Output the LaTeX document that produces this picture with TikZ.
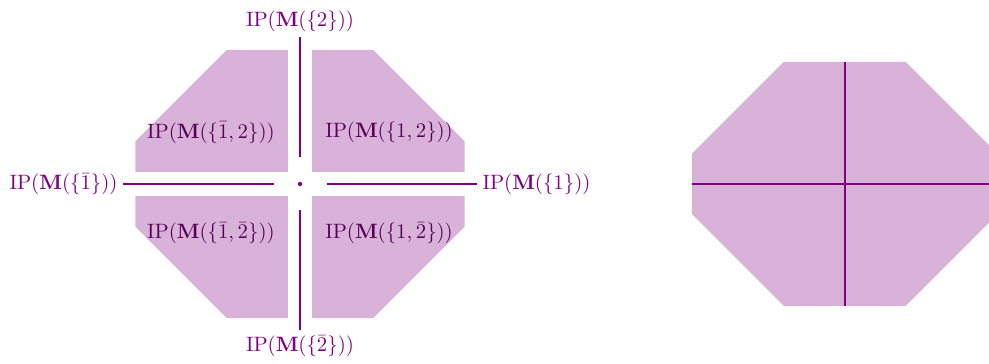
\documentclass[tikz,border=0pt]{standalone}
\begin{document}
\begin{tikzpicture}[quadrant/.style={fill=violet!30}, axis/.style={violet, line width=1pt},
	outer/.style={text=violet, inner sep=2.5pt, scale=0.97}, inner/.style={text=violet!70!black, scale=0.97}]
		\useasboundingbox (-4.918,-2.951) rectangle (11.295,3.016);
		
		%Exploded quadrants
		\fill[quadrant] (0.2,0.2) -- (2.7,0.2) -- (2.7,0.7) -- (1.2,2.2) -- (0.2,2.2) -- cycle;
		\fill[quadrant] (-0.2,0.2) -- (-2.7,0.2) -- (-2.7,0.7) -- (-1.2,2.2) -- (-0.2,2.2) -- cycle;
		\fill[quadrant] (-0.2,-0.2) -- (-2.7,-0.2) -- (-2.7,-0.7) -- (-1.2,-2.2) -- (-0.2,-2.2) -- cycle;
		\fill[quadrant] (0.2,-0.2) -- (2.7,-0.2) -- (2.7,-0.7) -- (1.2,-2.2) -- (0.2,-2.2) -- cycle;
		
		%Centre
		\coordinate (origin) at (0,0);
		\fill[violet] (origin) circle (1pt);
		
		%Axis ends
		\coordinate (upIn) at (0,0.44);
		\coordinate (upOut) at (0,2.41);
		\coordinate (downIn) at (0,-0.43);
		\coordinate (downOut) at (0,-2.39);
		\coordinate (leftIn) at (-0.43,0);
		\coordinate (leftOut) at (-2.9,0);
		\coordinate (rightIn) at (0.44,0);
		\coordinate (rightOut) at (2.9,0);
		
		%Links
		\draw[axis] (upIn) -- (upOut);
		\draw[axis] (downIn) -- (downOut);
		\draw[axis] (leftIn) -- (leftOut);
		\draw[axis] (rightIn) -- (rightOut);
		
		%Names of the rays
		\node (labelUp) at (upOut) [outer, anchor=south]{$\mathrm{IP}(\mathbf{M}(\{2\}))$};
		\node (labelDown) at (downOut) [outer, anchor=north]{$\mathrm{IP}(\mathbf{M}(\{\bar{2}\}))$};
		\node (labelLeft) at (leftOut) [outer, anchor=east]{$\mathrm{IP}(\mathbf{M}(\{\bar{1}\}))$};
		\node (labelRight) at (rightOut) [outer, anchor=west]{$\mathrm{IP}(\mathbf{M}(\{1\}))$};
		
		%Names of the quadrants
		\node (labelNE) at (1.46,0.84) [inner]{$\mathrm{IP}(\mathbf{M}(\{1,2\}))$};
		\node (labelNW) at (-1.46,0.84) [inner]{$\mathrm{IP}(\mathbf{M}(\{\bar{1},2\}))$};
		\node (labelSW) at (-1.46,-0.81) [inner]{$\mathrm{IP}(\mathbf{M}(\{\bar{1},\bar{2}\}))$};
		\node (labelSE) at (1.46,-0.81) [inner]{$\mathrm{IP}(\mathbf{M}(\{1,\bar{2}\}))$};
		
		%Second part of the scheme
		\fill[quadrant] (6.43,0.5) -- (7.93,2) -- (9.93,2) -- (11.43,0.5) -- (11.43,-0.5) -- 
		(9.93,-2) -- (7.93,-2) -- (6.43,-0.5) -- cycle;
		
		\coordinate (top) at (8.93,2);
		\coordinate (bottom) at (8.93,-2);
		\coordinate (west) at (6.43,0);
		\coordinate (east) at (11.43,0);
		
		\draw[axis] (bottom) -- (top);
		\draw[axis] (west) -- (east);
		\end{tikzpicture}
\end{document}
